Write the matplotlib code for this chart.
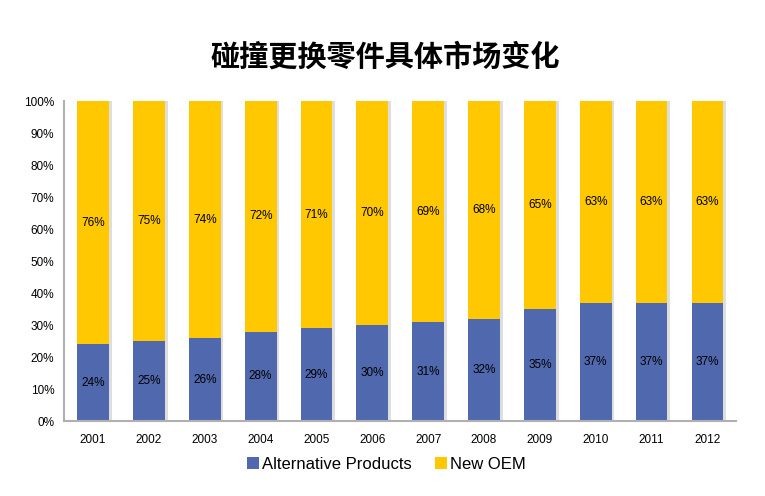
import numpy as np
import matplotlib.pyplot as plt

# Data
years = ["2001", "2002", "2003", "2004", "2005", "2006",
         "2007", "2008", "2009", "2010", "2011", "2012"]
alt_products = [24, 25, 26, 28, 29, 30, 31, 32, 35, 37, 37, 37]
new_oem = [76, 75, 74, 72, 71, 70, 69, 68, 65, 63, 63, 63]

blue = "#5068AE"
yellow = "#FFC800"

plt.rcParams["font.family"] = ["Liberation Sans", "DejaVu Sans"]

fig = plt.figure(figsize=(7.65, 4.96), dpi=100)
ax = fig.add_axes([0.0837, 0.151, 0.879, 0.645])

x = np.arange(len(years))
w = 0.57

# shadows
ax.bar(x + 0.05, alt_products, w, color="#dedede", zorder=1)
ax.bar(x + 0.05, new_oem, w, bottom=alt_products, color="#dedede", zorder=1)

b1 = ax.bar(x, alt_products, w, color=blue, label="Alternative Products", zorder=2)
b2 = ax.bar(x, new_oem, w, bottom=alt_products, color=yellow, label="New OEM", zorder=2)

for i in range(len(years)):
    ax.text(x[i], alt_products[i] / 2, "%d%%" % alt_products[i],
            ha="center", va="center", fontsize=8.5, zorder=3)
    ax.text(x[i], alt_products[i] + new_oem[i] / 2, "%d%%" % new_oem[i],
            ha="center", va="center", fontsize=8.5, zorder=3)

ax.set_xlim(-0.52, 11.52)
ax.set_ylim(0, 100)
ax.set_yticks(range(0, 101, 10))
ax.set_yticklabels(["%d%%" % v for v in range(0, 101, 10)], fontsize=8.5)
ax.set_xticks(x)
ax.set_xticklabels(years, fontsize=8.5)
ax.tick_params(axis="both", length=0, pad=7)
ax.tick_params(axis="x", pad=9)

for s in ["top", "right"]:
    ax.spines[s].set_visible(False)
for s in ["left", "bottom"]:
    ax.spines[s].set_color("#b0b0b0")
    ax.spines[s].set_linewidth(1.5)

fig.text(0.504, 0.885, "碰撞更换零件具体市场变化", ha="center", va="center",
         fontsize=21, fontweight="bold",
         family=["Noto Sans CJK SC", "DejaVu Sans"])

fig.legend(handles=[b1, b2], loc="center", bbox_to_anchor=(0.505, 0.064),
           ncol=2, frameon=False, fontsize=12, handlelength=0.7,
           handleheight=0.7, handletextpad=0.2, columnspacing=1.4)

fig.savefig("out.png", dpi=100)
